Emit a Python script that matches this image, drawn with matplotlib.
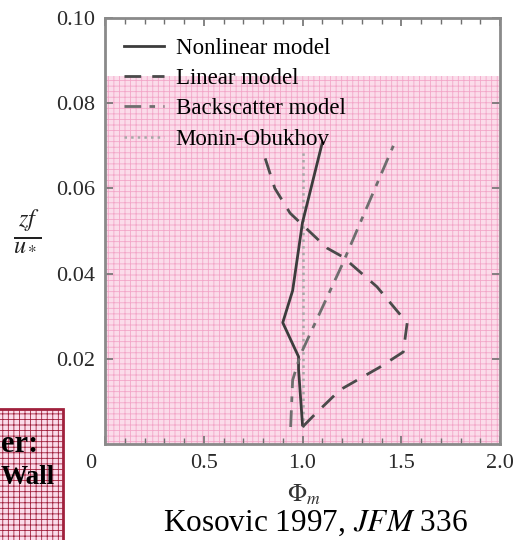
import matplotlib
matplotlib.use("Agg")
import matplotlib.pyplot as plt
import matplotlib.transforms as mtransforms
from matplotlib.patches import Rectangle

plt.rcParams['font.family'] = ['Liberation Serif', 'DejaVu Serif']
plt.rcParams['mathtext.fontset'] = 'stix'
plt.rcParams['hatch.linewidth'] = 0.6

# valores (Phi_m vs zf/u*)
z_nonlin = [0.0045, 0.0175, 0.0205, 0.0285, 0.036, 0.052, 0.0707]
phi_nonlin = [1.00, 0.98, 0.98, 0.90, 0.95, 1.00, 1.10]

z_lin = [0.004, 0.0073, 0.0127, 0.018, 0.0216, 0.0284, 0.0369, 0.0439, 0.046, 0.0542, 0.060, 0.0672]
phi_lin = [1.00, 1.07, 1.19, 1.39, 1.51, 1.53, 1.377, 1.205, 1.124, 0.937, 0.86, 0.81]

z_back = [0.004, 0.015, 0.021, 0.028, 0.042, 0.056, 0.070]
phi_back = [0.94, 0.95, 0.99, 1.06, 1.20, 1.33, 1.46]

z_mo = [0.004, 0.069]
phi_mo = [1.0, 1.0]

labels = ["Nonlinear model", "Linear model", "Backscatter model", "Monin-Obukhov"]
pink_top = 0.0864

fig = plt.figure(figsize=(5.19, 5.40), dpi=100)
ax = fig.add_axes([105/519, 1-444/540, 395/519, 426/540])

ax.axhspan(0, pink_top, facecolor='#fbdcea', edgecolor='#f3a6c8', hatch='+++', lw=0, zorder=0)

ax.plot(phi_nonlin, z_nonlin, color='#3c3c3c', lw=2.0, ls='-', label=labels[0], zorder=3)
ax.plot(phi_lin, z_lin, color='#4a4a4a', lw=2.0, dashes=(6, 4), label=labels[1], zorder=3)
ax.plot(phi_back, z_back, color='#6e6e6e', lw=2.0, dashes=(6, 3, 2, 3), label=labels[2], zorder=3)
ax.plot(phi_mo, z_mo, color='#a8a8a8', lw=1.8, ls=':', label=labels[3], zorder=2)

ax.set_xlim(0, 2.0)
ax.set_ylim(0, 0.10)
ax.set_xticks([0, 0.5, 1.0, 1.5, 2.0])
ax.set_xticklabels(['0', '0.5', '1.0', '1.5', '2.0'])
ax.set_xticks([i/10 for i in range(21)], minor=True)
ax.set_yticks([0.02, 0.04, 0.06, 0.08, 0.10])
ax.set_yticklabels(['0.02', '0.04', '0.06', '0.08', '0.10'])

ax.tick_params(which='both', direction='in', top=True, right=True, colors='#707070',
               labelcolor='#2a2a2a', labelsize=16, pad=7)
ax.tick_params(which='major', length=6, width=1.2)
ax.tick_params(which='minor', length=4, width=1.0)
for s in ax.spines.values():
    s.set_color('#8a8a8a')
    s.set_linewidth(2)

# o "0" fica deslocado para a esquerda
lab0 = ax.get_xticklabels()[0]
lab0.set_transform(lab0.get_transform() + mtransforms.ScaledTranslation(-14/100, 0, fig.dpi_scale_trans))

ax.legend(loc='upper left', bbox_to_anchor=(0.048, 0.953), frameon=False, fontsize=16.5,
          handlelength=1.75, handletextpad=0.5, labelspacing=0.40, borderpad=0, borderaxespad=0)

fig.text(27/519, 1-230/540, r'$\frac{zf}{u_*}$', fontsize=25, ha='center', va='center', color='#222222')
fig.text(304/519, 1-495/540, r'$\mathit{\Phi}_m$', fontsize=18, ha='center', va='center', color='#333333')
fig.text(315/519, 1-523/540, r'Kosovic 1997, $\mathit{JFM}$ 336', fontsize=22.5, ha='center', va='center',
         color='black')

# caixa cortada no canto inferior esquerdo
box = Rectangle((-0.05, -0.05), 0.05 + 63/519, 0.05 + 1-409/540, transform=fig.transFigure,
                facecolor='#fbdcea', edgecolor='#a0203c', hatch='+++', lw=2, zorder=-1)
fig.patches.append(box)
fig.text(1/519, 1-445/540, 'er:', fontsize=22, fontweight='bold', ha='left', va='center')
fig.text(1/519, 1-477/540, 'Wall', fontsize=19.5, fontweight='bold', ha='left', va='center')

fig.savefig('out.png', dpi=100)
